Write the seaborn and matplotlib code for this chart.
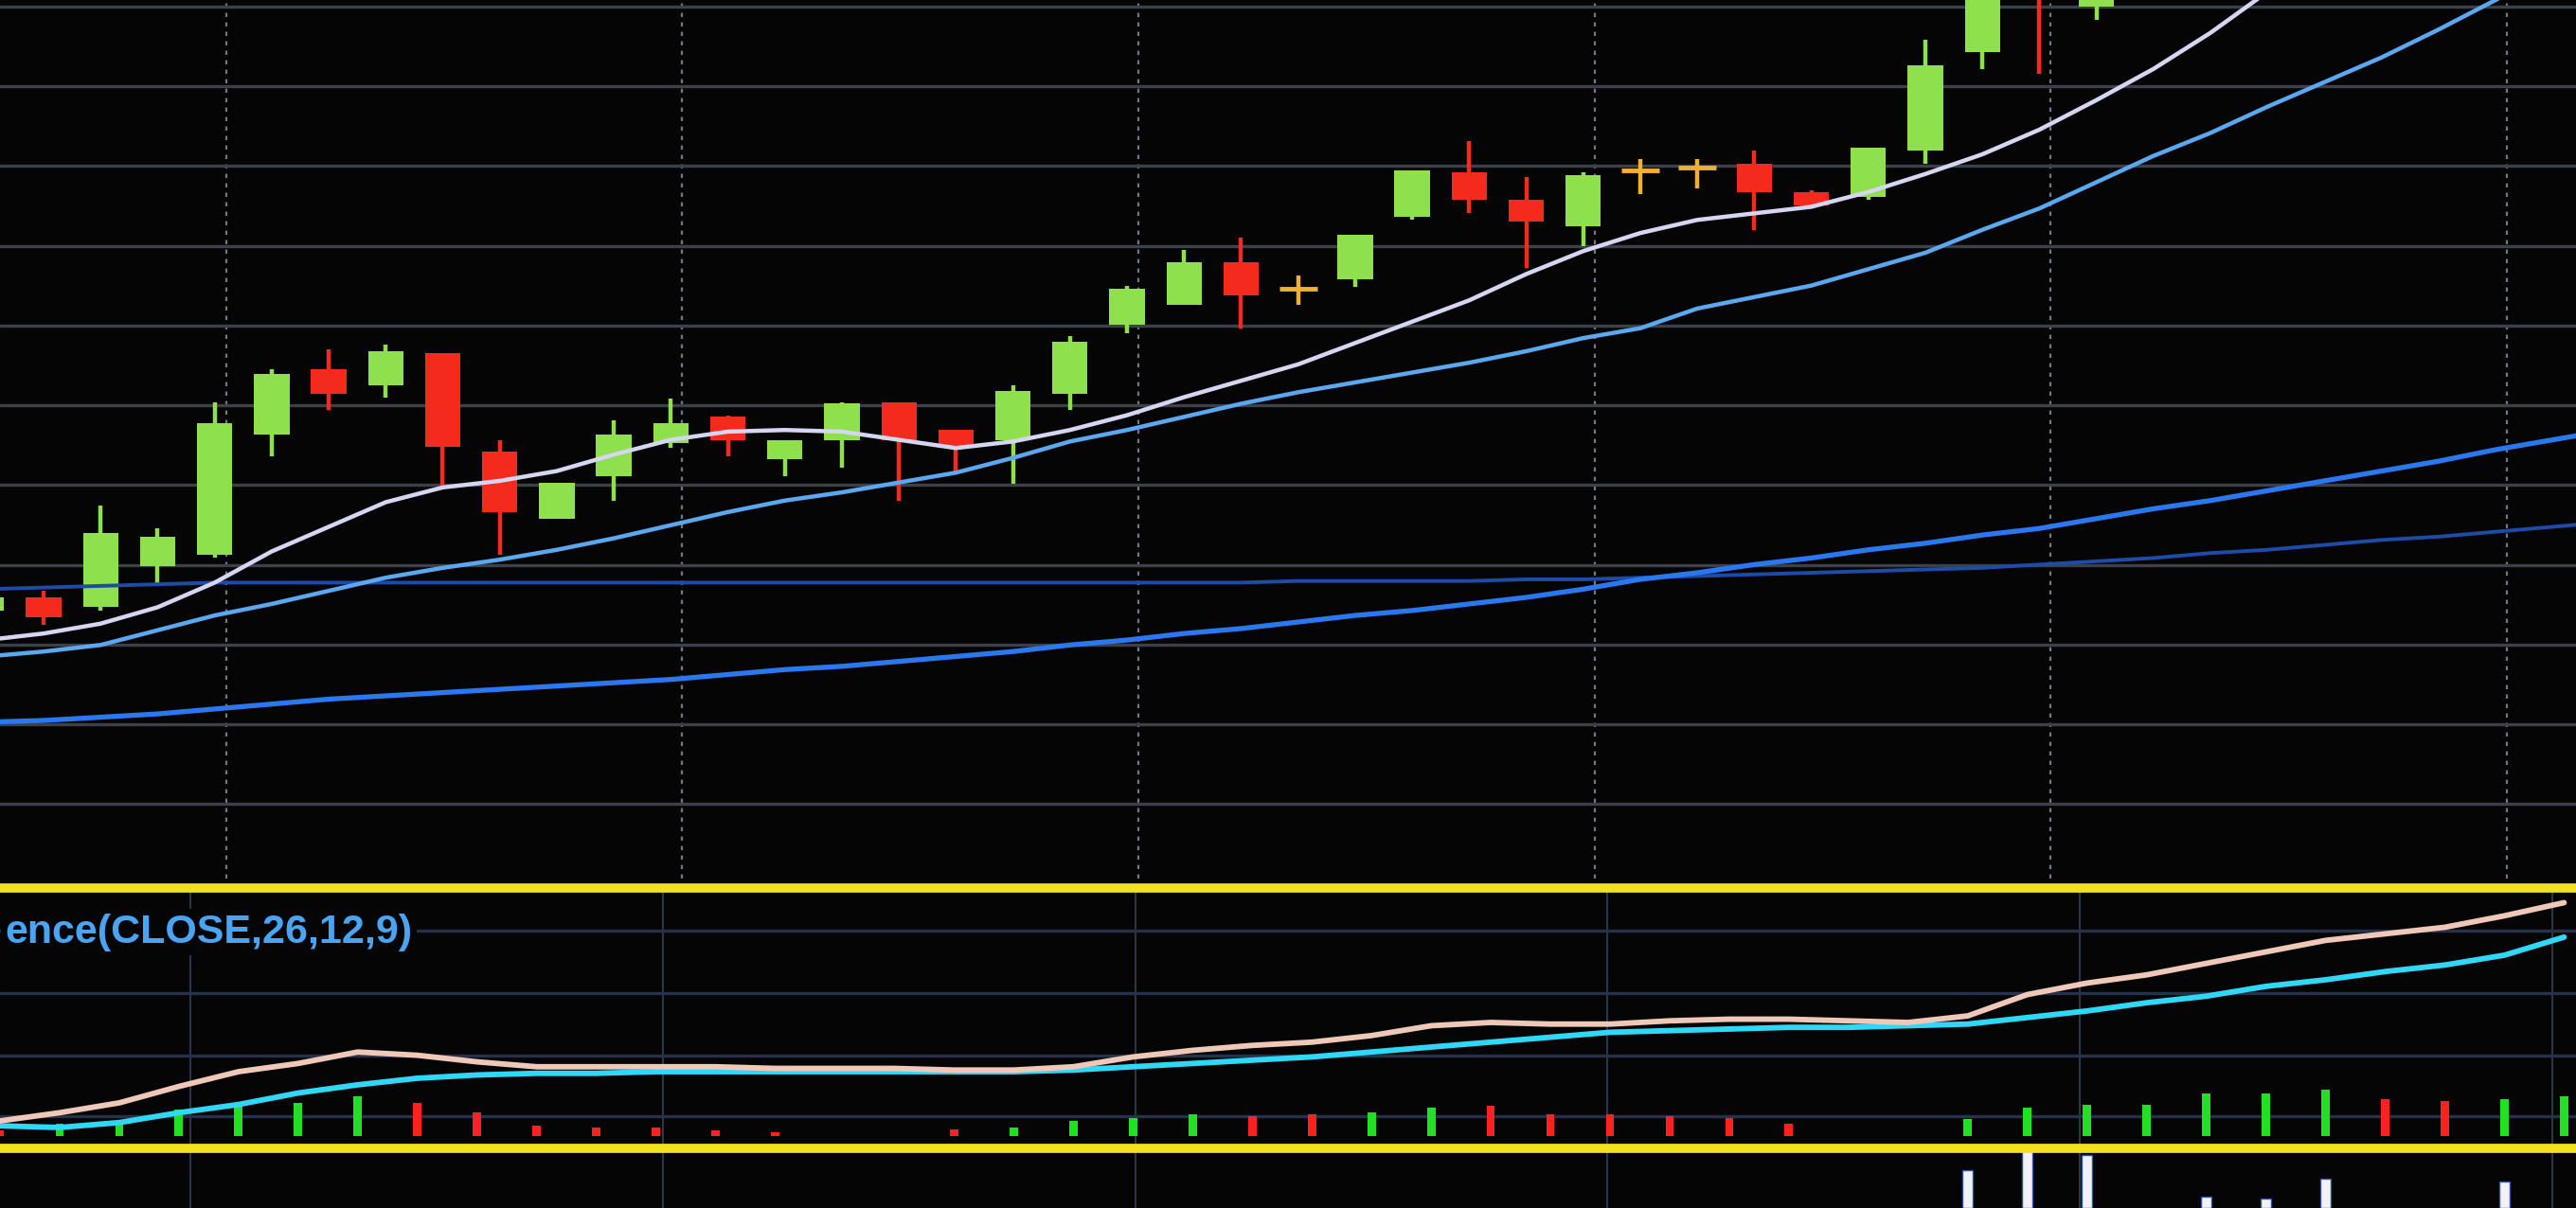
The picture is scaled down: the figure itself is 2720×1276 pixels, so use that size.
import numpy as np
import matplotlib
matplotlib.use("Agg")
import matplotlib.pyplot as plt
import seaborn as sns

# ---- price panel: candles (index 0..37) ----
opens = [22.8, 23.6, 23.0, 25.5, 26.2, 33.5, 37.5, 36.5, 38.5, 32.5, 28.4, 31.0, 33.0, 34.6, 32.0, 33.2,
         35.5, 33.8, 33.2, 36.0, 40.2, 41.4, 44.0, 42.4, 43.0, 46.8, 49.5, 47.8, 46.2, 49.6, 49.8, 50.0,
         48.3, 48.0, 50.8, 56.8, 64.0, 59.6]
closes = [23.6, 22.4, 27.5, 27.3, 34.2, 37.2, 36.0, 38.6, 32.8, 28.8, 30.6, 33.5, 34.2, 33.2, 33.2, 35.4,
          33.2, 32.7, 36.2, 39.2, 42.4, 44.0, 42.0, 42.4, 45.7, 49.6, 47.8, 46.5, 49.3, 49.6, 49.8, 48.3,
          47.5, 51.0, 56.0, 62.0, 60.5, 61.5]
highs = [23.8, 24.0, 29.2, 27.8, 35.5, 37.5, 38.7, 39.0, 38.5, 33.2, 30.6, 34.4, 35.7, 34.7, 33.2, 35.5,
         35.5, 33.8, 36.5, 39.5, 42.6, 44.8, 45.5, 43.2, 45.7, 49.6, 51.4, 49.2, 49.5, 50.3, 50.3, 50.8,
         48.4, 51.0, 57.6, 63.0, 65.0, 63.0]
lows = [22.5, 21.9, 22.8, 24.3, 26.0, 32.2, 35.0, 35.8, 30.3, 26.2, 28.4, 29.5, 32.7, 32.2, 31.0, 31.5,
        29.5, 31.3, 30.5, 35.0, 39.7, 41.4, 40.0, 41.4, 42.5, 46.6, 47.0, 43.7, 45.0, 48.2, 48.5, 46.0,
        47.4, 47.8, 50.0, 55.8, 55.5, 58.8]

# moving averages (index 0..46)
ma_short = [21.0, 21.4, 22.0, 23.0, 24.5, 26.4, 27.9, 29.4, 30.3, 30.7, 31.3, 32.3, 33.2, 33.7, 33.8, 33.7,
            33.2, 32.7, 33.1, 33.8, 34.7, 35.8, 36.8, 37.8, 39.1, 40.4, 41.7, 43.3, 44.7, 45.8, 46.6, 47.0,
            47.4, 48.3, 49.4, 50.6, 52.1, 53.9, 55.8, 58.0, 60.5, 63.0, 65.5, 68.0, 70.5, 73.0, 75.5]
ma_mid = [20.0, 20.3, 20.7, 21.6, 22.5, 23.2, 24.0, 24.8, 25.4, 25.9, 26.5, 27.2, 28.0, 28.8, 29.5, 30.0,
          30.6, 31.2, 32.1, 33.1, 33.8, 34.6, 35.4, 36.1, 36.7, 37.3, 37.9, 38.6, 39.4, 40.0, 41.2, 41.9,
          42.6, 43.6, 44.6, 46.0, 47.3, 48.9, 50.5, 51.9, 53.5, 55.0, 56.5, 58.2, 60.0, 61.8, 63.6]
ma_long = [16.0, 16.1, 16.3, 16.5, 16.8, 17.1, 17.4, 17.6, 17.8, 18.0, 18.2, 18.4, 18.6, 18.9, 19.2, 19.4,
           19.7, 20.0, 20.3, 20.7, 21.0, 21.4, 21.7, 22.1, 22.5, 22.8, 23.2, 23.6, 24.1, 24.7, 25.1, 25.6,
           26.0, 26.5, 26.9, 27.4, 27.8, 28.4, 29.0, 29.5, 30.1, 30.7, 31.3, 31.9, 32.6, 33.2, 33.8]
ma_slow = [24.1, 24.2, 24.3, 24.4] + [24.5] * 19 + [24.6] * 4 + \
          [24.7, 24.7, 24.8, 24.9, 25.0, 25.1, 25.2, 25.3, 25.4, 25.6, 25.8, 26.0, 26.3, 26.5, 26.8,
           27.1, 27.3, 27.6, 27.9, 28.2]

# ---- MACD panel (index 0..43) ----
dif = [9, 14, 20, 30, 39, 44, 51, 49, 45, 42, 42, 42, 42, 41, 41, 41, 40, 40, 42, 48, 52, 55, 57, 61,
       67, 69, 68, 68, 70, 71, 71, 70, 69, 73, 86, 93, 98, 105, 112, 119, 123, 127, 134, 142]
dea = [6, 5, 8, 14, 19, 26, 31, 35, 37, 38, 38, 39, 39, 39, 39, 39, 39, 39, 40, 42, 44, 46, 48, 51,
       54, 57, 60, 63, 64, 65, 66, 66, 67, 68, 72, 76, 81, 85, 91, 95, 100, 104, 110, 121]
hist = [3, 7, 9, 16, 20, 20, 24, 20, 14, 6, 5, 5, 3, 2, 0, 0, 4, 5, 9, 11, 13, 12, 13, 14,
        17, 18, 13, 13, 12, 11, 7, 0, 0, 10, 17, 19, 19, 26, 26, 28, 22, 21, 22, 24]
hist_side = "rggggggrrrrrrrnnrggggrrggrrrrrrnngggggggrrgg"
macd_label = "ence(CLOSE,26,12,9)"

# ---- volume strip ----
vol_idx = [33, 34, 35, 37, 38, 39, 42]
vol = [23, 36, 32, 7, 6, 18, 16]

BG = "#050505"
GREEN = "#8ee04c"
RED = "#f42a1c"
DOJI = "#f0b030"

sns.set_theme(style="dark", rc={"axes.facecolor": BG, "figure.facecolor": BG})
plt.rcParams["font.family"] = ["Liberation Sans", "DejaVu Sans"]

fig = plt.figure(figsize=(27.2, 12.76), dpi=100)
ax = fig.add_axes([0, 0.265, 1, 0.735])
axv = fig.add_axes([0, 0, 1, 0.049])
axm = fig.add_axes([0, 0.049, 1, 0.216])
axm.set_zorder(3)

for a in (ax, axm, axv):
    a.set_facecolor(BG)
    a.tick_params(length=0, labelbottom=False, labelleft=False)
    for s in a.spines.values():
        s.set_visible(False)

# price panel
idx = np.arange(len(opens))
o = np.array(opens)
c = np.array(closes)
cols = [GREEN if cc > oo else RED if cc < oo else DOJI for oo, cc in zip(o, c)]
ax.vlines(idx, lows, highs, colors=cols, lw=3.2, zorder=3)
ax.bar(idx, np.abs(c - o), bottom=np.minimum(o, c), width=0.62, color=cols,
       edgecolor="none", lw=0, zorder=4)
doji = c == o
ax.hlines(c[doji], idx[doji] - 0.33, idx[doji] + 0.33, colors=DOJI, lw=3.5, zorder=4)

ma_idx = np.arange(len(ma_short))
sns.lineplot(x=ma_idx, y=ma_slow, ax=ax, color="#1c4ca8", lw=2.8, zorder=5)
sns.lineplot(x=ma_idx, y=ma_long, ax=ax, color="#2a78f0", lw=3.8, zorder=5)
sns.lineplot(x=ma_idx, y=ma_mid, ax=ax, color="#5aa8f0", lw=3.2, zorder=6)
sns.lineplot(x=ma_idx, y=ma_short, ax=ax, color="#d4d6f2", lw=3.2, zorder=7)

ax.set_xlim(0.236, 45.41)
ax.set_ylim(5.9, 60.0)
ax.set_yticks(np.arange(11.0, 61.0, 4.86))
ax.set_xticks(np.arange(4.2, 46, 8.0))
ax.grid(axis="y", color="#3c4149", lw=2.4, zorder=0)
ax.grid(axis="x", color="#707886", lw=1.6, ls=(0, (2, 2.5)), zorder=0)
ax.set_xlabel("")
ax.set_ylabel("")

# MACD panel
k = np.arange(len(dif))
hcols = ["#22e022" if s == "g" else "#ff2020" for s in hist_side]
axm.bar(k, hist, width=0.14, color=hcols, edgecolor="none", lw=0, zorder=3)
sns.lineplot(x=k, y=dea, ax=axm, color="#30d8f8", lw=4.2, zorder=4)
sns.lineplot(x=k, y=dif, ax=axm, color="#f0c8b8", lw=4.2, zorder=5)
axm.set_xlim(0.0, 43.2)
axm.set_ylim(-8, 151)
axm.set_yticks([12, 49, 87, 125])
axm.set_xticks(np.arange(3.2, 44, 7.92))
axm.grid(axis="y", color="#26324a", lw=2.4, zorder=0)
axm.grid(axis="x", color="#2c3646", lw=1.5, zorder=0)
for side in ("top", "bottom"):
    axm.spines[side].set_visible(True)
    axm.spines[side].set_color("#f2e21e")
    axm.spines[side].set_linewidth(7)
    axm.spines[side].set_zorder(6)
axm.text(0.002, 124, macd_label, transform=axm.get_yaxis_transform(), fontsize=31,
         fontweight="bold", color="#4aa4f4", va="center", ha="left", zorder=7,
         bbox=dict(facecolor=BG, edgecolor="none", pad=3))
axm.set_xlabel("")
axm.set_ylabel("")

# volume strip
axv.bar(vol_idx, vol, width=0.18, color="#f2f2f6", edgecolor="#3050a0", lw=1.0, zorder=3)
axv.set_xlim(0.0, 43.2)
axv.set_ylim(0, 36)
axv.set_xticks(np.arange(3.2, 44, 7.92))
axv.grid(axis="x", color="#2c3646", lw=1.5, zorder=0)

fig.savefig("out.png", dpi=100, facecolor=BG)
